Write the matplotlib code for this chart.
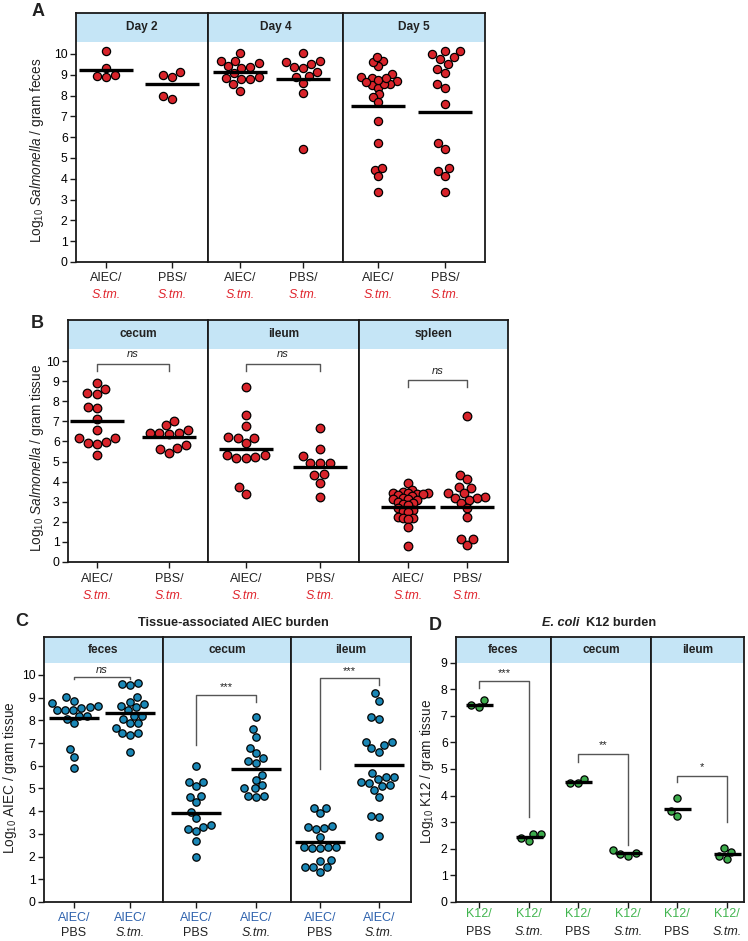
import numpy as np
import matplotlib
matplotlib.use("Agg")
import matplotlib.pyplot as plt

plt.rcParams['font.family'] = ['Liberation Sans', 'DejaVu Sans']
plt.rcParams['mathtext.fontset'] = 'custom'
plt.rcParams['mathtext.rm'] = 'Liberation Sans'
plt.rcParams['mathtext.it'] = 'Liberation Sans:italic'
plt.rcParams['mathtext.bf'] = 'Liberation Sans:bold'

# ---------------- DATA ----------------
# Panel A: Log10 Salmonella / gram feces
A_facets = ["Day 2", "Day 4", "Day 5"]
A_day2_aiec = [10.15, 9.35, 8.97, 8.87, 8.92]
A_day2_pbs = [8.97, 8.90, 9.12, 7.84, 8.00]
A_day4_aiec = [10.06, 9.66, 9.40, 9.34, 9.39, 9.55, 9.68, 8.88, 8.80, 8.78, 8.83, 9.07, 8.54, 8.24]
A_day4_pbs = [10.06, 9.62, 9.50, 9.64, 9.36, 9.13, 9.33, 8.88, 8.93, 8.59, 8.14, 5.42]
A_day5_aiec = [9.66, 9.42, 9.62, 9.86, 8.86, 8.69, 8.58, 8.53, 8.91, 8.38, 8.56, 9.04, 8.67, 8.75,
               8.86, 8.06, 7.92, 7.69, 6.78, 5.71, 4.42, 4.53, 4.12, 3.38]
A_day5_pbs = [10.16, 10.00, 9.74, 9.84, 9.52, 10.13, 9.29, 9.10, 8.37, 8.56, 7.58, 5.45, 5.71,
              4.39, 4.52, 4.12, 3.38]
A_means = [9.25, 8.58, 9.15, 8.78, 7.52, 7.20]

# Panel B: Log10 Salmonella / gram tissue
B_facets = ["cecum", "ileum", "spleen"]
B_cecum_aiec = [8.62, 8.34, 8.41, 8.89, 7.73, 7.65, 7.10, 6.57, 6.17, 5.94, 5.86, 5.99, 6.17, 5.31]
B_cecum_pbs = [6.57, 6.40, 6.40, 6.35, 6.40, 7.01, 6.80, 5.69, 5.44, 5.64, 5.82]
B_ileum_aiec = [8.72, 7.33, 6.78, 6.17, 5.94, 6.17, 6.24, 5.31, 5.16, 5.16, 5.24, 5.32, 3.40, 3.72]
B_ileum_pbs = [6.68, 5.61, 5.27, 4.94, 4.93, 4.94, 4.33, 4.38, 3.95, 3.22]
B_spleen_aiec = [3.95, 3.60, 3.50, 3.45, 3.45, 3.45, 3.40, 3.40, 3.35, 3.30, 3.20, 3.15, 3.15, 3.10,
                 3.00, 2.95, 2.90, 2.85, 2.70, 2.60, 2.55, 2.50, 2.25, 2.20, 2.20, 2.15, 1.73, 0.81]
B_spleen_pbs = [7.25, 4.35, 4.11, 3.72, 3.67, 3.45, 3.42, 3.22, 3.20, 3.17, 3.08, 2.95, 2.67, 2.22,
                1.14, 0.85, 1.14]
B_means = [7.03, 6.20, 5.64, 4.74, 2.72, 2.75]

# Panel C: Log10 AIEC / gram tissue
C_facets = ["feces", "cecum", "ileum"]
C_feces_pbs = [8.56, 8.87, 8.46, 8.63, 9.02, 8.75, 8.46, 8.46, 8.60, 8.19, 7.90, 8.06, 8.19, 6.73, 6.40, 5.91]
C_feces_stm = [9.60, 9.54, 9.63, 9.04, 8.71, 8.58, 8.46, 8.63, 8.82, 8.20, 8.04, 7.87, 7.87, 8.19,
               7.68, 7.46, 7.34, 7.46, 6.61]
C_cecum_pbs = [6.00, 5.30, 5.12, 5.30, 4.68, 4.64, 4.40, 3.96, 3.68, 3.31, 3.12, 3.22, 3.37, 2.70, 1.99]
C_cecum_stm = [8.16, 7.62, 7.28, 6.80, 6.55, 6.22, 6.11, 6.32, 5.59, 5.37, 5.15, 5.00, 5.00, 4.68, 4.64, 4.68]
C_ileum_pbs = [4.15, 3.90, 4.15, 3.31, 3.20, 3.36, 3.27, 2.88, 2.44, 2.41, 2.36, 2.39, 2.44, 1.85,
               1.82, 1.52, 1.33, 1.52, 1.55]
C_ileum_stm = [9.19, 8.87, 8.04, 8.16, 7.03, 6.77, 6.62, 6.92, 7.03, 5.42, 5.22, 5.52, 5.70, 5.30,
               5.49, 5.10, 5.15, 4.93, 4.63, 3.79, 3.74, 2.92]
C_means = [8.09, 8.31, 3.90, 5.84, 2.63, 6.04]

# Panel D: Log10 K12 / gram tissue
D_facets = ["feces", "cecum", "ileum"]
D_feces_pbs = [7.59, 7.34, 7.39]
D_feces_stm = [2.55, 2.28, 2.39, 2.55]
D_cecum_pbs = [4.64, 4.46, 4.46]
D_cecum_stm = [1.82, 1.74, 1.84, 1.95]
D_ileum_pbs = [3.92, 3.23, 3.41]
D_ileum_stm = [1.88, 2.03, 1.73, 1.62]
D_means = [7.42, 2.45, 4.50, 1.83, 3.48, 1.80]

# significance brackets: (facet, y_left_end, y_bar, y_right_end, label, label_y)
B_brackets = [(0, 9.52, 9.84, 9.52, "ns", 10.35), (1, 9.52, 9.84, 9.52, "ns", 10.35),
              (2, 8.69, 9.04, 8.69, "ns", 9.50)]
C_brackets = [(0, 9.80, 9.89, 9.80, "ns", 10.22), (1, 6.92, 9.13, 8.79, "***", 9.45),
              (2, 5.84, 9.85, 9.56, "***", 10.18)]
D_brackets = [(0, 8.03, 8.31, 3.18, "***", 8.62), (1, 5.27, 5.56, 2.14, "**", 5.88),
              (2, 4.50, 4.75, 3.02, "*", 5.08)]

# ---------------- STYLE ----------------
RED = "#d8232a"
BLUE = "#1a87b6"
GREEN = "#3cab4b"
HDR = "#c5e5f6"
LBL_RED = "#e0262e"
LBL_BLUE = "#2e62ad"
LBL_GREEN = "#41b54f"
SPINE = "#1a1a1a"

W, H = 748, 941
fig = plt.figure(figsize=(W / 100, H / 100), dpi=100)


def swarm(vals_px, dist):
    vals_px = np.asarray(vals_px, float)
    n = len(vals_px)
    xs = np.zeros(n)
    placed = []
    for i in np.argsort(vals_px, kind="stable"):
        y = vals_px[i]
        cands = [0.0]
        for (px, py) in placed:
            dy = y - py
            if abs(dy) < dist:
                dx = np.sqrt(dist ** 2 - dy ** 2)
                cands += [px + dx, px - dx]
        cands.sort(key=lambda c: (abs(c), c))
        for c in cands:
            if all((c - px) ** 2 + (y - py) ** 2 >= dist ** 2 - 1e-6 for px, py in placed):
                xs[i] = c
                break
        placed.append((xs[i], y))
    return xs


def panel(groups, means, facets, edges, ticks, top, bottom, ytop, hdr_bottom, yticks,
          color, diam, hw_px, lab1, lab2, lab_off, brackets, dist_fac=1.12, overrides=None):
    overrides = overrides or {}
    yscale = (bottom - top) / ytop
    axes = []
    for k in range(3):
        L, R = edges[k], edges[k + 1]
        t1, t2 = ticks[k]
        sp = t2 - t1
        ax = fig.add_axes([L / W, 1 - bottom / H, (R - L) / W, (bottom - top) / H])
        ax.set_xlim((L - t1) / sp, (R - t1) / sp)
        ax.set_ylim(0, ytop)
        ax.axhspan(hdr_bottom, ytop, color=HDR, lw=0, zorder=0)
        ax.text(0.5, (hdr_bottom + ytop) / 2, facets[k], transform=ax.get_yaxis_transform(),
                ha="center", va="center", fontsize=8.6, fontweight="bold", color="#222")
        for s in ax.spines.values():
            s.set_linewidth(1.3)
            s.set_color(SPINE)
        ax.set_xticks([0, 1])
        ax.set_xticklabels(["", ""])
        ax.tick_params(axis="x", direction="out", length=4, width=1, color=SPINE)
        if k == 0:
            ax.set_yticks(yticks)
            ax.set_yticklabels([str(t) for t in yticks], fontsize=8.8)
            ax.tick_params(axis="y", direction="out", length=4, width=1, color=SPINE, pad=2)
        else:
            ax.tick_params(axis="y", left=False, labelleft=False)
        for j in range(2):
            gi = 2 * k + j
            vals = np.asarray(groups[gi], float)
            dist = diam * overrides.get(gi, dist_fac)
            xoff = swarm(vals * yscale, dist) / sp
            ax.scatter(j + xoff, vals, s=(diam * 0.72) ** 2, facecolor=color, edgecolor="black",
                       linewidth=0.9, zorder=3, clip_on=False)
            hw = hw_px / sp
            ax.hlines(means[gi], j - hw, j + hw, color="black", lw=2.4, zorder=4)
            t, c, st = lab1[j]
            ax.annotate(t, xy=(j, 0), xycoords=("data", "axes fraction"), xytext=(0, -lab_off[0]),
                        textcoords="offset points", ha="center", va="center", fontsize=9,
                        color=c, style=st)
            t, c, st = lab2[j]
            ax.annotate(t, xy=(j, 0), xycoords=("data", "axes fraction"), xytext=(0, -lab_off[1]),
                        textcoords="offset points", ha="center", va="center", fontsize=9,
                        color=c, style=st)
        axes.append(ax)
    for (k, yl, yb, yr, lab, ly) in brackets:
        ax = axes[k]
        ax.plot([0, 0, 1, 1], [yl, yb, yb, yr], color="#555555", lw=1.0, zorder=2)
        ax.text(0.5, ly, lab, ha="center", va="center", fontsize=8,
                style="italic" if lab == "ns" else "normal", color="#222")
    return axes


ticks10 = list(range(0, 11))

# Panel A
panel([A_day2_aiec, A_day2_pbs, A_day4_aiec, A_day4_pbs, A_day5_aiec, A_day5_pbs], A_means, A_facets,
      edges=[76, 208, 343, 485], ticks=[(106, 172), (240, 303), (378, 445)], top=13, bottom=262,
      ytop=11.97, hdr_bottom=10.58, yticks=ticks10, color=RED, diam=8.2, hw_px=27,
      lab1=[("AIEC/", "#222", "normal"), ("PBS/", "#222", "normal")],
      lab2=[("S.tm.", LBL_RED, "italic"), ("S.tm.", LBL_RED, "italic")],
      lab_off=(11.5, 23.8), brackets=[], overrides={4: 0.82})

# Panel B
panel([B_cecum_aiec, B_cecum_pbs, B_ileum_aiec, B_ileum_pbs, B_spleen_aiec, B_spleen_pbs], B_means,
      B_facets, edges=[68, 208, 359, 508], ticks=[(97, 169), (246, 320), (408, 467)], top=320,
      bottom=562, ytop=12.04, hdr_bottom=10.6, yticks=ticks10, color=RED, diam=8.6, hw_px=27,
      lab1=[("AIEC/", "#222", "normal"), ("PBS/", "#222", "normal")],
      lab2=[("S.tm.", LBL_RED, "italic"), ("S.tm.", LBL_RED, "italic")],
      lab_off=(12.5, 24.5), brackets=B_brackets, overrides={4: 0.62, 5: 0.95})

# Panel C
panel([C_feces_pbs, C_feces_stm, C_cecum_pbs, C_cecum_stm, C_ileum_pbs, C_ileum_stm], C_means,
      C_facets, edges=[44, 163, 291, 411], ticks=[(74, 130), (196, 256), (320, 379)], top=637,
      bottom=902, ytop=11.67, hdr_bottom=10.53, yticks=ticks10, color=BLUE, diam=7.4, hw_px=25,
      lab1=[("AIEC/", LBL_BLUE, "normal"), ("AIEC/", LBL_BLUE, "normal")],
      lab2=[("PBS", "#222", "normal"), ("S.tm.", "#222", "italic")],
      lab_off=(11.5, 22.5), brackets=C_brackets)

# Panel D
panel([D_feces_pbs, D_feces_stm, D_cecum_pbs, D_cecum_stm, D_ileum_pbs, D_ileum_stm], D_means,
      D_facets, edges=[456, 551, 651, 744], ticks=[(479, 529), (578, 628), (677, 727)], top=637,
      bottom=902, ytop=9.96, hdr_bottom=9.0, yticks=list(range(0, 10)), color=GREEN, diam=7.2,
      hw_px=13.5,
      lab1=[("K12/", LBL_GREEN, "normal"), ("K12/", LBL_GREEN, "normal")],
      lab2=[("PBS", "#222", "normal"), ("S.tm.", "#222", "italic")],
      lab_off=(8.5, 21.5), brackets=D_brackets)

# y labels
def ylab(x, y, s):
    fig.text(x / W, 1 - y / H, s, rotation=90, ha="center", va="center", fontsize=9.8, color="#222")

ylab(37, 150, r"Log$_{10}$ $\mathit{Salmonella}$ / gram feces")
ylab(37, 458, r"Log$_{10}$ $\mathit{Salmonella}$ / gram tissue")
ylab(10, 778, r"Log$_{10}$ AIEC / gram tissue")
ylab(427, 771, r"Log$_{10}$ K12 / gram tissue")

# panel letters
for (x, y, s) in [(38, 11, "A"), (37, 323, "B"), (22, 621, "C"), (435, 625, "D")]:
    fig.text(x / W, 1 - y / H, s, ha="center", va="center", fontsize=13, fontweight="bold", color="#222")

# titles
fig.text(233 / W, 1 - 623 / H, "Tissue-associated AIEC burden", ha="center", va="center",
         fontsize=9.2, fontweight="bold", color="#222")
t1 = fig.text(542 / W, 1 - 623 / H, "E. coli", ha="left", va="center", fontsize=9.2,
              fontweight="bold", style="italic", color="#222")
fig.axes[-1].annotate("  K12 burden", xy=(1, 0), xycoords=t1, ha="left", va="bottom", fontsize=9.2,
                      fontweight="bold", color="#222", annotation_clip=False)

fig.savefig("out.png", dpi=100)
